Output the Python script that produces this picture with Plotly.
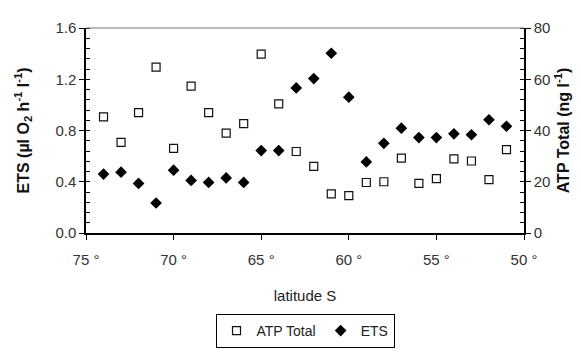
import plotly.graph_objects as go

lat = [74, 73, 72, 71, 70, 69, 68, 67, 66, 65, 64, 63, 62, 61, 60, 59, 58, 57, 56, 55, 54, 53, 52, 51]
atp_total = [45.3, 35.4, 47.0, 64.7, 33.0, 57.3, 47.0, 39.0, 42.7, 69.8, 50.4, 31.8, 26.0, 15.3, 14.6, 19.7, 20.0, 29.2, 19.4, 21.2, 28.9, 28.1, 20.8, 32.5]
ets = [0.46, 0.475, 0.387, 0.234, 0.49, 0.41, 0.395, 0.43, 0.395, 0.643, 0.643, 1.132, 1.205, 1.403, 1.06, 0.555, 0.70, 0.818, 0.745, 0.745, 0.774, 0.767, 0.884, 0.833]

x_ticks = [75, 70, 65, 60, 55, 50]
x_ticktext = ["75 °", "70 °", "65 °", "60 °", "55 °", "50 °"]

font = "Liberation Sans, Arial, sans-serif"
fig = go.Figure()
fig.add_trace(go.Scatter(
    x=lat, y=atp_total, name="ATP Total", mode="markers", yaxis="y2",
    marker=dict(symbol="square-open", size=8, color="#111", line=dict(width=1.2, color="#111")),
))
fig.add_trace(go.Scatter(
    x=lat, y=ets, name="ETS", mode="markers", yaxis="y",
    marker=dict(symbol="diamond", size=9, color="#000"),
))

fig.update_layout(
    width=581, height=352,
    margin=dict(l=78, r=65, t=20, b=113),
    paper_bgcolor="white", plot_bgcolor="white",
    font=dict(family=font, size=15, color="#333"),
    showlegend=True,
    legend=dict(orientation="h", x=0.5, xanchor="center", y=-0.395, yanchor="top",
                bordercolor="#000", borderwidth=1, font=dict(size=14, color="#222"),
                itemwidth=30, tracegroupgap=0),
    xaxis=dict(range=[75, 50], tickvals=x_ticks, ticktext=x_ticktext, showgrid=False,
               zeroline=False, showline=True, linecolor="#000", linewidth=1.5,
               ticks="outside", ticklen=5, tickcolor="#000", tickfont=dict(size=15),
               ticklabelstandoff=7,
               title=dict(text="latitude S", font=dict(size=15, color="#222"), standoff=24)),
    yaxis=dict(range=[0, 1.6], dtick=0.4, tickformat=".1f", showgrid=False, zeroline=False,
               showline=True, linecolor="#000", linewidth=1.5, ticks="outside", ticklen=5,
               tickcolor="#000", tickfont=dict(size=15),
               minor=dict(dtick=0.08, ticks="inside", ticklen=4, tickcolor="#000"),
               title=dict(text="<b>ETS (µl O<sub>2</sub> h<sup>-1</sup> l<sup>-1</sup>)</b>",
                          font=dict(size=16, color="#111"), standoff=22)),
    yaxis2=dict(range=[0, 80], dtick=20, overlaying="y", side="right", showgrid=False,
                zeroline=False, showline=True, linecolor="#000", linewidth=1.5,
                ticks="outside", ticklen=5, tickcolor="#000", tickfont=dict(size=15),
                minor=dict(dtick=4, ticks="inside", ticklen=4, tickcolor="#000"),
                title=dict(text="<b>ATP Total (ng l<sup>-1</sup>)</b>",
                           font=dict(size=16, color="#111"), standoff=8)),
    shapes=[dict(type="line", xref="paper", yref="paper", x0=0, x1=1, y0=1, y1=1,
                 line=dict(color="#777", width=1.2))],
)

fig.write_html("out.html")
